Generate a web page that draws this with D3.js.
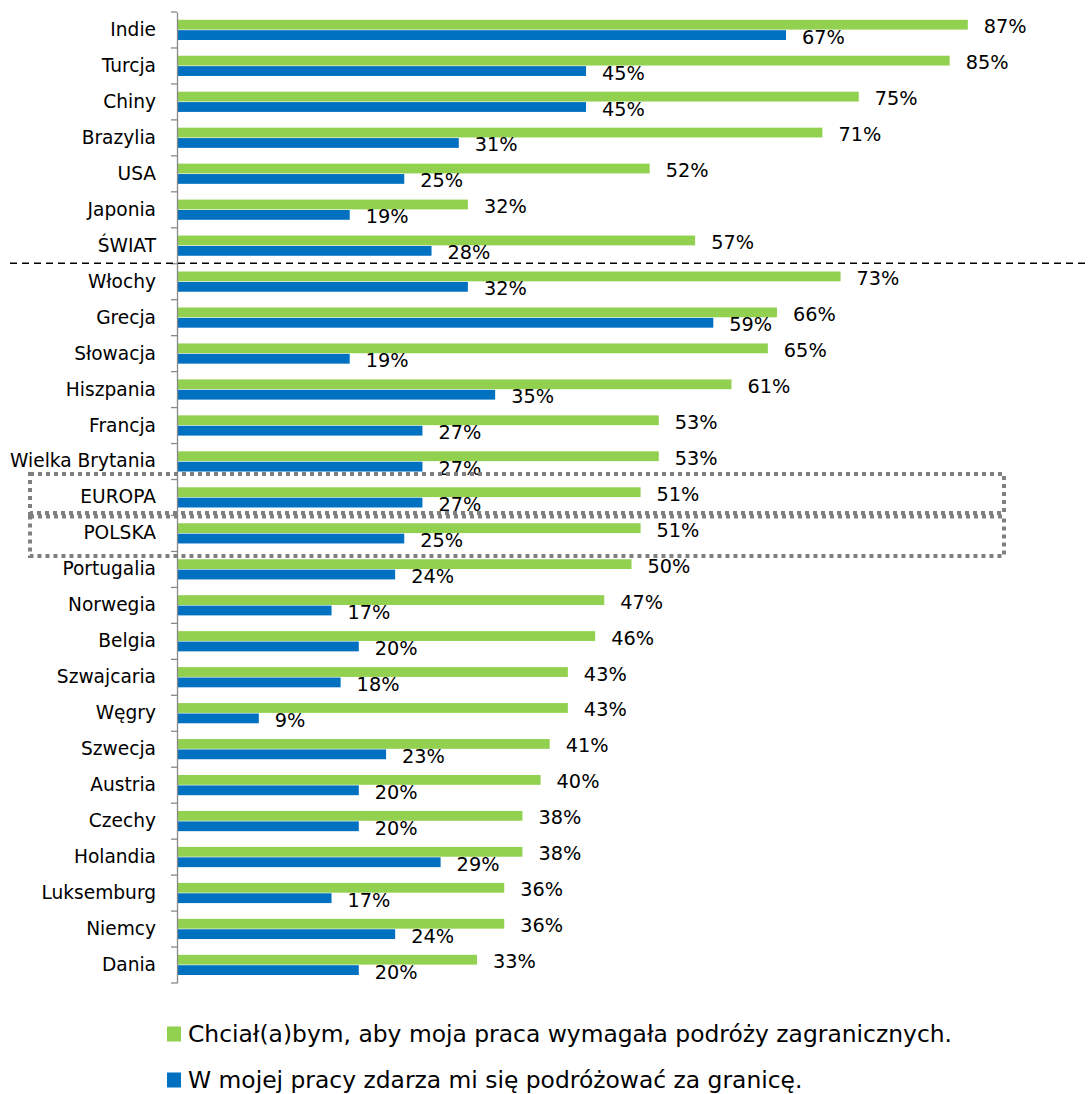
<!DOCTYPE html>
<html>
<head>
<meta charset="utf-8">
<script src="https://cdn.jsdelivr.net/npm/d3@7"></script>
<style>
  html, body { margin: 0; padding: 0; background: #fff; }
  text { font-family: "DejaVu Sans", Verdana, sans-serif; fill: #000; }
</style>
</head>
<body>
<div id="chart"></div>
<script>
var categories = ["Indie", "Turcja", "Chiny", "Brazylia", "USA", "Japonia", "ŚWIAT",
    "Włochy", "Grecja", "Słowacja", "Hiszpania", "Francja", "Wielka Brytania",
    "EUROPA", "POLSKA", "Portugalia", "Norwegia", "Belgia", "Szwajcaria", "Węgry",
    "Szwecja", "Austria", "Czechy", "Holandia", "Luksemburg", "Niemcy", "Dania"];

// Chciał(a)bym, aby moja praca wymagała podróży zagranicznych.
var wantTravel = [87, 85, 75, 71, 52, 32, 57, 73, 66, 65, 61, 53, 53, 51, 51, 50, 47, 46,
    43, 43, 41, 40, 38, 38, 36, 36, 33];
// W mojej pracy zdarza mi się podróżować za granicę.
var doTravel = [67, 45, 45, 31, 25, 19, 28, 32, 59, 19, 35, 27, 27, 27, 25, 24, 17, 20,
    18, 9, 23, 20, 20, 29, 17, 24, 20];

var seriesNames = ["Chciał(a)bym, aby moja praca wymagała podróży zagranicznych.",
    "W mojej pracy zdarza mi się podróżować za granicę."];
var seriesColors = ["#92D050", "#0070C0"];

var width = 1089, height = 1094;
var xmlns = "http://www.w3.org/2000/svg";

var svg = d3.select("#chart").append("svg")
    .attr("xmlns", xmlns)
    .attr("width", width)
    .attr("height", height);

var x = d3.scaleLinear().domain([0, 100]).range([177, 1086]);
var y = d3.scaleBand().domain(categories).range([12, 983]);
var step = y.step();
var barH = 9.8;

var rows = categories.map(function (c, i) {
    return { name: c, vals: [wantTravel[i], doTravel[i]] };
});

// bars
var g = svg.append("g");
rows.forEach(function (r) {
    r.vals.forEach(function (v, k) {
        var by = y(r.name) + step / 2 - barH + k * barH + (k === 0 ? -0.4 : 0.2);
        g.append("rect")
            .attr("x", x(0))
            .attr("y", by)
            .attr("width", x(v) - x(0))
            .attr("height", barH)
            .attr("fill", seriesColors[k]);
        g.append("text")
            .attr("x", x(v) + 16)
            .attr("y", by + barH / 2 + 2)
            .attr("dominant-baseline", "central")
            .attr("font-size", 19.3)
            .text(v + "%");
    });
});

// axis
var axis = d3.axisLeft(y).tickSize(0).tickPadding(21);
var ax = svg.append("g")
    .attr("transform", "translate(" + x(0) + ",0)")
    .call(axis);
ax.select(".domain").attr("stroke", "#888").attr("stroke-width", 1.3);
ax.selectAll(".tick text")
    .attr("font-size", 18.6)
    .attr("font-family", "DejaVu Sans, Verdana, sans-serif")
    .attr("fill", "#000");

// tick marks between categories
var bounds = d3.range(categories.length + 1).map(function (i) { return 12 + i * step; });
svg.append("g").selectAll("line").data(bounds).enter().append("line")
    .attr("x1", x(0) - 6).attr("x2", x(0))
    .attr("y1", function (d) { return d; })
    .attr("y2", function (d) { return d; })
    .attr("stroke", "#888").attr("stroke-width", 1.3);

// dashed separator after ŚWIAT
var sepY = y("Włochy") - 0.5;
svg.append("line")
    .attr("x1", 10).attr("x2", width)
    .attr("y1", sepY).attr("y2", sepY)
    .attr("stroke", "#000").attr("stroke-width", 1.3)
    .attr("stroke-dasharray", "7,5");

// dotted boxes around EUROPA and POLSKA
var boxes = [
    { top: y("EUROPA") - 5.5, bottom: y("EUROPA") + step - 2.5 },
    { top: y("POLSKA") + 1, bottom: y("POLSKA") + step + 4.5 }
];
svg.append("g").selectAll("rect").data(boxes).enter().append("rect")
    .attr("x", 30).attr("width", 974)
    .attr("y", function (d) { return d.top; })
    .attr("height", function (d) { return d.bottom - d.top; })
    .attr("fill", "none")
    .attr("stroke", "#808080")
    .attr("stroke-width", 4)
    .attr("stroke-dasharray", "4,4");

// legend
var leg = svg.append("g");
seriesNames.forEach(function (s, k) {
    var ly = 1034 + k * 46;
    leg.append("rect")
        .attr("x", 167).attr("y", ly - 7.5)
        .attr("width", 14).attr("height", 15)
        .attr("fill", seriesColors[k]);
    leg.append("text")
        .attr("x", 188).attr("y", ly)
        .attr("dominant-baseline", "central")
        .attr("font-size", 23.4)
        .text(s);
});
</script>
</body>
</html>
